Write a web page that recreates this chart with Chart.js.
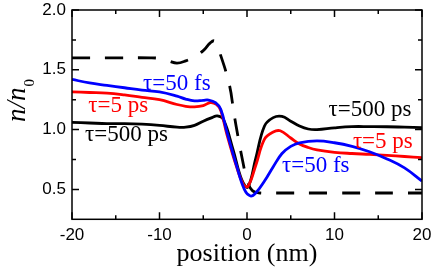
<!DOCTYPE html>
<html>
<head>
<meta charset="utf-8">
<script src="https://cdn.jsdelivr.net/npm/chart.js@4/dist/chart.umd.min.js"></script>
<style>
body { margin: 0; background: #fff; }
#wrap { width: 436px; height: 271px; position: relative; }
</style>
</head>
<body>
<div id="wrap"><canvas id="chart"></canvas></div>
<script>
// density profiles n/n0 against position (nm)
var xFs = [-20, -18, -16, -14, -12, -10, -8, -7, -6, -5, -4.4, -3.6, -3, -2.3, -1.2, -0.3, 0.4, 1, 2, 3, 4, 5, 6, 8, 10, 12, 14, 16, 18, 20];
var yFs = [1.42, 1.39, 1.37, 1.35, 1.33, 1.315, 1.28, 1.255, 1.24, 1.245, 1.247, 1.225, 1.17, 0.98, 0.70, 0.50, 0.445, 0.47, 0.57, 0.69, 0.80, 0.86, 0.89, 0.905, 0.89, 0.86, 0.815, 0.755, 0.68, 0.57];

var xPs5 = [-20, -18, -16, -14, -12, -10, -8, -7, -6, -5, -4.2, -3.5, -3, -2.3, -1.2, -0.4, 0.1, 1, 2, 3, 3.8, 5, 6, 7, 8, 10, 12, 14, 16, 18, 20];
var yPs5 = [1.315, 1.31, 1.305, 1.29, 1.27, 1.25, 1.21, 1.195, 1.19, 1.2, 1.225, 1.21, 1.16, 0.96, 0.69, 0.54, 0.525, 0.70, 0.92, 0.98, 0.99, 0.93, 0.88, 0.85, 0.83, 0.81, 0.80, 0.793, 0.785, 0.775, 0.766];

var xPs500 = [-20, -18, -16, -14, -12, -10, -8, -7, -6, -5, -4, -3.4, -2.7, -1.6, -0.6, 0.1, 1, 2, 3, 4, 5, 6, 7, 8, 10, 12, 14, 16, 18, 20];
var yPs500 = [1.06, 1.055, 1.05, 1.05, 1.045, 1.035, 1.02, 1.02, 1.035, 1.07, 1.10, 1.115, 1.085, 0.835, 0.58, 0.52, 0.76, 1.03, 1.10, 1.11, 1.07, 1.03, 1.005, 1.0, 1.015, 1.025, 1.025, 1.024, 1.02, 1.016];

var xInit = [-20, -15, -11, -10, -9, -8, -7, -6, -5, -4.2, -3.7, -3.1, -2, -1.5, -1, -0.5, 0, 0.6, 1.5, 3, 10, 20];
var yInit = [1.6, 1.6, 1.6, 1.595, 1.575, 1.556, 1.575, 1.61, 1.66, 1.725, 1.74, 1.64, 1.37, 1.14, 0.93, 0.74, 0.58, 0.49, 0.47, 0.47, 0.47, 0.47];

var xTickLabels = [-20, -10, 0, 10, 20];
var xMinorTicks = [-15, -5, 5, 15];
var yTickLabels = [0.5, 1.0, 1.5, 2.0];
var yMinorTicks = [0.75, 1.25, 1.75];

var colors = { fs: '#0000ff', ps5: '#ff0000', ps500: '#000000' };

var curveLabels = [
	{ text: 'τ=50 fs', x: -11.88, y: 1.334, color: colors.fs },
	{ text: 'τ=5 ps', x: -18.13, y: 1.146, color: colors.ps5 },
	{ text: 'τ=500 ps', x: -18.51, y: 0.904, color: colors.ps500 },
	{ text: 'τ=500 ps', x: 9.32, y: 1.11, color: colors.ps500 },
	{ text: 'τ=5 ps', x: 12.1, y: 0.849, color: colors.ps5 },
	{ text: 'τ=50 fs', x: 3.99, y: 0.644, color: colors.fs }
];

function pts(xs, ys) {
	return xs.map(function (x, i) { return { x: x, y: ys[i] }; });
}

var framePlugin = {
	id: 'frame',
	afterDraw: function (chart) {
		var ctx = chart.ctx, a = chart.chartArea;
		var sx = chart.scales.x, sy = chart.scales.y;
		ctx.save();
		ctx.strokeStyle = '#000';
		ctx.lineWidth = 1.5;
		ctx.strokeRect(a.left, a.top, a.right - a.left, a.bottom - a.top);
		ctx.beginPath();
		function xt(v, len) {
			var p = sx.getPixelForValue(v);
			ctx.moveTo(p, a.bottom); ctx.lineTo(p, a.bottom - len);
			ctx.moveTo(p, a.top); ctx.lineTo(p, a.top + len);
		}
		function yt(v, len) {
			var p = sy.getPixelForValue(v);
			ctx.moveTo(a.left, p); ctx.lineTo(a.left + len, p);
			ctx.moveTo(a.right, p); ctx.lineTo(a.right - len, p);
		}
		xTickLabels.forEach(function (v) { xt(v, 7); });
		xMinorTicks.forEach(function (v) { xt(v, 4); });
		yTickLabels.forEach(function (v) { yt(v, 7); });
		yMinorTicks.forEach(function (v) { yt(v, 4); });
		ctx.stroke();

		// curve labels
		ctx.font = '23px "Liberation Serif", "Times New Roman", serif';
		ctx.textBaseline = 'alphabetic';
		ctx.textAlign = 'left';
		curveLabels.forEach(function (l) {
			ctx.fillStyle = l.color;
			ctx.fillText(l.text, sx.getPixelForValue(l.x), sy.getPixelForValue(l.y));
		});

		// y axis title n/n0
		ctx.translate(25, 122);
		ctx.rotate(-Math.PI / 2);
		ctx.fillStyle = '#000';
		ctx.font = 'italic 27px "Liberation Serif", serif';
		ctx.fillText('n/n', 0, 0);
		var w = ctx.measureText('n/n').width;
		ctx.font = '15px "Liberation Serif", serif';
		ctx.fillText('0', w + 1, 9);
		ctx.restore();
	}
};

new Chart(document.getElementById('chart'), {
	type: 'line',
	data: {
		datasets: [
			{ label: 'τ=50 fs', data: pts(xFs, yFs), borderColor: colors.fs, borderWidth: 2.8 },
			{ label: 'τ=5 ps', data: pts(xPs5, yPs5), borderColor: colors.ps5, borderWidth: 2.8 },
			{ label: 'τ=500 ps', data: pts(xPs500, yPs500), borderColor: colors.ps500, borderWidth: 2.8 },
			{ label: 'initial', data: pts(xInit, yInit), borderColor: '#000', borderWidth: 2.8, borderDash: [18, 15] }
		]
	},
	options: {
		responsive: true,
		maintainAspectRatio: false,
		animation: false,
		elements: { point: { radius: 0 }, line: { tension: 0.4, capBezierPoints: true } },
		layout: { padding: { left: 0, right: 14, top: 10, bottom: 0 } },
		plugins: { legend: { display: false }, tooltip: { enabled: false } },
		scales: {
			x: {
				type: 'linear',
				min: -20,
				max: 20,
				grid: { display: false, drawTicks: false },
				border: { display: false },
				afterBuildTicks: function (s) { s.ticks = xTickLabels.map(function (v) { return { value: v }; }); },
				afterFit: function (s) { s.height = 51.7; s.paddingLeft = 0; s.paddingRight = 0; },
				ticks: {
					padding: 6,
					color: '#000',
					font: { family: '"Liberation Sans", Arial, sans-serif', size: 17 },
					callback: function (v) { return String(v); }
				},
				title: {
					display: true,
					text: 'position (nm)',
					color: '#000',
					padding: { top: 0, bottom: 1 },
					font: { family: '"Liberation Serif", "Times New Roman", serif', size: 26, lineHeight: 1.2 }
				}
			},
			y: {
				type: 'linear',
				min: 0.25,
				max: 2.0,
				grid: { display: false, drawTicks: false },
				border: { display: false },
				afterBuildTicks: function (s) { s.ticks = yTickLabels.map(function (v) { return { value: v }; }); },
				afterFit: function (s) { s.width = 72; s.paddingTop = 0; s.paddingBottom = 0; },
				ticks: {
					padding: 6,
					color: '#000',
					font: { family: '"Liberation Sans", Arial, sans-serif', size: 17 },
					callback: function (v) { return v.toFixed(1); }
				}
			}
		}
	},
	plugins: [framePlugin]
});
</script>
</body>
</html>
